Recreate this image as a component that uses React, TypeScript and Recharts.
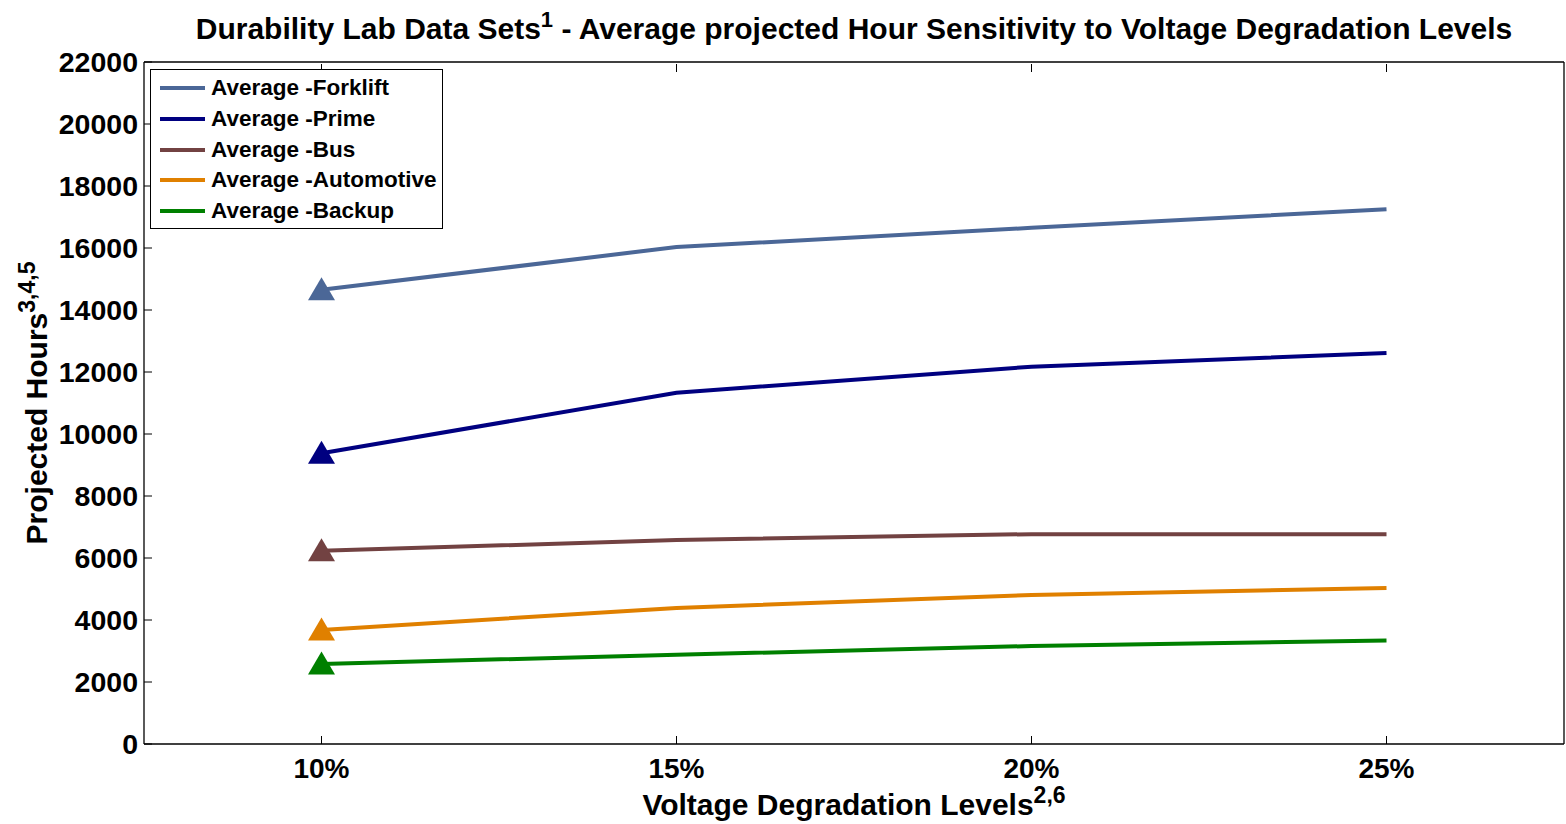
import React from "react";
import { LineChart, Line, XAxis, YAxis, Legend, Label } from "recharts";

const levels = [10, 15, 20, 25];
const levelTicks = [10, 15, 20, 25];
const hourTicks = [0, 2000, 4000, 6000, 8000, 10000, 12000, 14000, 16000, 18000, 20000, 22000];

const forklift = [14650, 16030, 16650, 17250];
const prime = [9380, 11330, 12170, 12610];
const bus = [6230, 6580, 6770, 6770];
const automotive = [3680, 4390, 4810, 5030];
const backup = [2580, 2880, 3160, 3340];

const seriesNames = ["Average -Forklift", "Average -Prime", "Average -Bus", "Average -Automotive", "Average -Backup"];
const seriesKeys = ["forklift", "prime", "bus", "automotive", "backup"];
const seriesColors = ["#4b6797", "#000080", "#724242", "#e08000", "#008000"];
const seriesValues = [forklift, prime, bus, automotive, backup];

const data = levels.map((lv, i) => {
  const row: Record<string, number> = { level: lv };
  seriesKeys.forEach((k, s) => {
    row[k] = seriesValues[s][i];
  });
  return row;
});

const FONT = '"Liberation Sans", Arial, sans-serif';
const TICK_LEN = 8;

const makeDot = (color: string) => (props: any) => {
  const { cx, cy, index } = props;
  if (index !== 0 || cx == null || cy == null) return <g key={`d${index}`} />;
  return (
    <path
      key={`d${index}`}
      d={`M${cx},${cy - 12.5} L${cx + 13.5},${cy + 10.5} L${cx - 13.5},${cy + 10.5} Z`}
      fill={color}
      stroke="none"
    />
  );
};

const LegendBox = () => (
  <div
    style={{
      width: 291,
      height: 155,
      border: "1.5px solid #000",
      background: "#fff",
      fontFamily: FONT,
      fontWeight: "bold",
      fontSize: 22.5,
      boxSizing: "content-box",
      paddingTop: 3,
    }}
  >
    {seriesNames.map((n, i) => (
      <div key={n} style={{ display: "flex", alignItems: "center", height: 30.7, whiteSpace: "nowrap" }}>
        <div style={{ width: 45, height: 4, background: seriesColors[i], marginLeft: 9, marginRight: 6 }} />
        <span style={{ color: "#000" }}>{n}</span>
      </div>
    ))}
  </div>
);

const TitleLabel = (props: any) => {
  const vb = props.viewBox || {};
  const cx = vb.x + vb.width / 2;
  return (
    <text x={cx} y={39} textAnchor="middle" fontFamily={FONT} fontWeight="bold" fontSize={30} fill="#000">
      Durability Lab Data Sets
      <tspan dy={-12} fontSize={22}>1</tspan>
      <tspan dy={12}> - Average projected Hour Sensitivity to Voltage Degradation Levels</tspan>
    </text>
  );
};

const XTitle = (props: any) => {
  const vb = props.viewBox || {};
  const cx = vb.x + vb.width / 2;
  return (
    <text x={cx} y={vb.y + 71} textAnchor="middle" fontFamily={FONT} fontWeight="bold" fontSize={30} fill="#000">
      Voltage Degradation Levels
      <tspan dy={-12} fontSize={23}>2,6</tspan>
    </text>
  );
};

const YTitle = (props: any) => {
  const vb = props.viewBox || {};
  const cy = vb.y + vb.height / 2;
  const x = 47;
  return (
    <text
      x={x}
      y={cy}
      transform={`rotate(-90 ${x} ${cy})`}
      textAnchor="middle"
      fontFamily={FONT}
      fontWeight="bold"
      fontSize={30}
      fill="#000"
    >
      Projected Hours
      <tspan dy={-12} fontSize={23}>3,4,5</tspan>
    </text>
  );
};

const X_MARGIN = 14;
const Y_MARGIN = 6;

const BottomTick = (props: any) => {
  const { x, y, payload } = props;
  const axisY = y - X_MARGIN;
  return (
    <g>
      <line x1={x} x2={x} y1={axisY} y2={axisY - TICK_LEN} stroke="#000" strokeWidth={1} />
      <text x={x} y={y} dy="0.71em" textAnchor="middle" fontFamily={FONT} fontWeight="bold" fontSize={28} fill="#000">
        {`${payload.value}%`}
      </text>
    </g>
  );
};

const TopTick = (props: any) => {
  const { x, y } = props;
  const axisY = y + 2;
  return <line x1={x} x2={x} y1={axisY} y2={axisY + TICK_LEN} stroke="#000" strokeWidth={1} />;
};

const LeftTick = (props: any) => {
  const { x, y, payload } = props;
  const axisX = x + Y_MARGIN;
  return (
    <g>
      <line x1={axisX} x2={axisX + TICK_LEN} y1={y} y2={y} stroke="#000" strokeWidth={1} />
      <text x={x} y={y} dy="0.355em" textAnchor="end" fontFamily={FONT} fontWeight="bold" fontSize={28.5} fill="#000">
        {payload.value}
      </text>
    </g>
  );
};

const RightTick = (props: any) => {
  const { x, y } = props;
  const axisX = x - 2;
  return <line x1={axisX} x2={axisX - TICK_LEN} y1={y} y2={y} stroke="#000" strokeWidth={1} />;
};

const axisLine = { stroke: "#000", strokeWidth: 1.3 };

export default function App() {
  return (
    <div style={{ position: "absolute", left: 0, top: 0, width: 1566, height: 824, background: "#fff" }}>
      <LineChart width={1566} height={824} data={data} margin={{ top: 60, right: 0, bottom: 0, left: 0 }}>
        <XAxis
          dataKey="level"
          type="number"
          domain={[7.5, 27.5]}
          ticks={levelTicks}
          tick={<BottomTick />}
          tickSize={0}
          tickMargin={X_MARGIN}
          height={80}
          axisLine={axisLine}
          tickLine={false}
          interval={0}
        >
          <Label content={<XTitle />} />
        </XAxis>
        <XAxis
          xAxisId="top"
          orientation="top"
          dataKey="level"
          type="number"
          domain={[7.5, 27.5]}
          ticks={levelTicks}
          tick={<TopTick />}
          tickSize={0}
          tickMargin={0}
          height={2}
          axisLine={axisLine}
          tickLine={false}
          interval={0}
        >
          <Label content={<TitleLabel />} />
        </XAxis>
        <YAxis
          type="number"
          domain={[0, 22000]}
          ticks={hourTicks}
          tick={<LeftTick />}
          tickSize={0}
          tickMargin={Y_MARGIN}
          width={144}
          axisLine={axisLine}
          tickLine={false}
          interval={0}
        >
          <Label content={<YTitle />} />
        </YAxis>
        <YAxis
          yAxisId="right"
          orientation="right"
          type="number"
          domain={[0, 22000]}
          ticks={hourTicks}
          tick={<RightTick />}
          tickSize={0}
          tickMargin={0}
          width={2}
          axisLine={axisLine}
          tickLine={false}
          interval={0}
        />
        <Legend
          layout="horizontal"
          verticalAlign="middle"
          align="center"
          content={() => <LegendBox />}
          wrapperStyle={{ position: "absolute", left: 150, top: 69, width: "auto" }}
        />
        {seriesKeys.map((k, i) => (
          <Line
            key={k}
            type="linear"
            dataKey={k}
            name={seriesNames[i]}
            stroke={seriesColors[i]}
            strokeWidth={4}
            dot={makeDot(seriesColors[i])}
            activeDot={false}
            isAnimationActive={false}
          />
        ))}
      </LineChart>
    </div>
  );
}
